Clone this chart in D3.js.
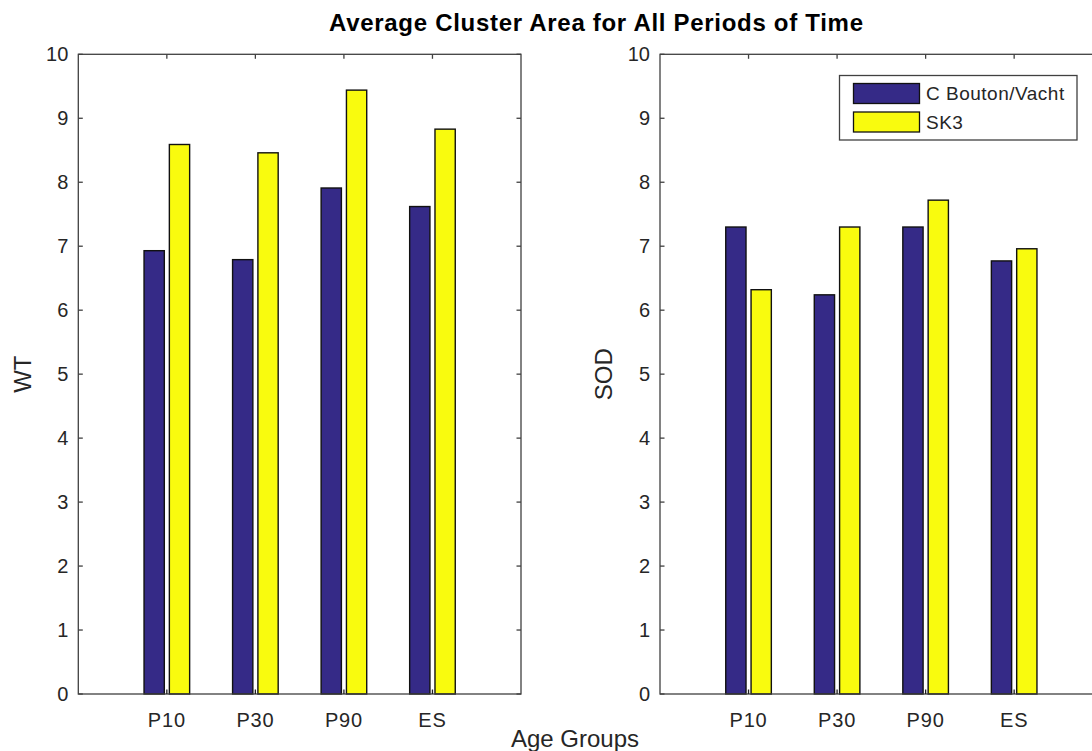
<!DOCTYPE html>
<html>
<head>
<meta charset="utf-8">
<script src="https://cdn.jsdelivr.net/npm/d3@7"></script>
<style>
  body { margin: 0; background: #fff; }
  text { font-family: "Liberation Sans", Arial, Helvetica, sans-serif; fill: #262626; }
</style>
</head>
<body>
<script>
// data
var groups = ["P10", "P30", "P90", "ES"];
var seriesNames = ["C Bouton/Vacht", "SK3"];
var wtBouton = [6.93, 6.79, 7.91, 7.62];
var wtSK3 = [8.59, 8.46, 9.44, 8.83];
var sodBouton = [7.30, 6.24, 7.30, 6.77];
var sodSK3 = [6.32, 7.30, 7.72, 6.96];
var yTicks = [0, 1, 2, 3, 4, 5, 6, 7, 8, 9, 10];
var colors = ["#352a87", "#f9fb0e"];

var w = 1092, h = 751;
var svg = d3.select("body").append("svg")
  .attr("width", w)
  .attr("height", h);

var plotTop = 54.3, plotBottom = 694, axW = 442.7;

function drawPanel(left, yName, s1, s2, labelX, withLegend) {
  var x = d3.scaleLinear().domain([0, 5]).range([left, left + axW]);
  var y = d3.scaleLinear().domain([0, 10]).range([plotBottom, plotTop]);
  var g = svg.append("g");
  var barW = 0.229 * (x(1) - x(0));
  var off = 0.143 * (x(1) - x(0));

  [s1, s2].forEach(function(vals, si) {
    g.selectAll(".b" + si)
      .data(vals)
      .enter()
      .append("rect")
      .attr("x", function(d, i) { return x(i + 1) + (si === 0 ? -off : off) - barW / 2; })
      .attr("y", function(d) { return y(d); })
      .attr("width", barW)
      .attr("height", function(d) { return y(0) - y(d); })
      .attr("fill", colors[si])
      .attr("stroke", "#111")
      .attr("stroke-width", 1.4);
  });

  // box
  g.append("rect")
    .attr("x", x(0)).attr("y", y(10))
    .attr("width", x(5) - x(0)).attr("height", y(0) - y(10))
    .attr("fill", "none").attr("stroke", "#404040").attr("stroke-width", 1.3);

  var tk = 4.5;
  // y ticks left and right, inward
  yTicks.forEach(function(t) {
    g.append("line").attr("x1", x(0)).attr("x2", x(0) + tk)
      .attr("y1", y(t)).attr("y2", y(t)).attr("stroke", "#404040").attr("stroke-width", 1.3);
    g.append("line").attr("x1", x(5)).attr("x2", x(5) - tk)
      .attr("y1", y(t)).attr("y2", y(t)).attr("stroke", "#404040").attr("stroke-width", 1.3);
    g.append("text").attr("x", x(0) - 10).attr("y", y(t))
      .attr("dy", "0.35em").attr("text-anchor", "end")
      .style("font-size", "20px").text(t);
  });
  // x ticks top and bottom, inward
  groups.forEach(function(c, i) {
    g.append("line").attr("x1", x(i + 1)).attr("x2", x(i + 1))
      .attr("y1", y(10)).attr("y2", y(10) + tk).attr("stroke", "#404040").attr("stroke-width", 1.3);
    g.append("line").attr("x1", x(i + 1)).attr("x2", x(i + 1))
      .attr("y1", y(0)).attr("y2", y(0) - tk).attr("stroke", "#202020").attr("stroke-width", 1.3);
    g.append("text").attr("x", x(i + 1)).attr("y", plotBottom + 33)
      .attr("text-anchor", "middle").style("font-size", "20px")
      .style("letter-spacing", "0.8px").text(c);
  });

  g.append("text")
    .attr("transform", "translate(" + labelX + "," + ((plotTop + plotBottom) / 2) + ") rotate(-90)")
    .attr("text-anchor", "middle")
    .style("font-size", "24px")
    .text(yName);

  if (withLegend) {
    var lg = svg.append("g");
    lg.append("rect").attr("x", 839.5).attr("y", 75.5).attr("width", 237.5).attr("height", 64.5)
      .attr("fill", "#fff").attr("stroke", "#404040").attr("stroke-width", 1.3);
    seriesNames.forEach(function(n, i) {
      lg.append("rect").attr("x", 853.5).attr("y", 83.5 + i * 28.5)
        .attr("width", 66).attr("height", 20)
        .attr("fill", colors[i]).attr("stroke", "#111").attr("stroke-width", 1.3);
      lg.append("text").attr("x", 926).attr("y", 93.5 + i * 28.5)
        .attr("dy", "0.35em").style("font-size", "19px")
        .style("letter-spacing", "0.5px").text(n);
    });
  }
}

drawPanel(78.3, "WT", wtBouton, wtSK3, 31, false);
drawPanel(660, "SOD", sodBouton, sodSK3, 612, true);

svg.append("text").attr("x", 596).attr("y", 31)
  .attr("text-anchor", "middle")
  .attr("textLength", 534).attr("lengthAdjust", "spacing")
  .style("font-size", "24px").style("font-weight", "bold")
  .style("fill", "#000")
  .text("Average Cluster Area for All Periods of Time");

svg.append("text").attr("x", 575).attr("y", 747)
  .attr("text-anchor", "middle")
  .style("font-size", "24px")
  .text("Age Groups");
</script>
</body>
</html>
